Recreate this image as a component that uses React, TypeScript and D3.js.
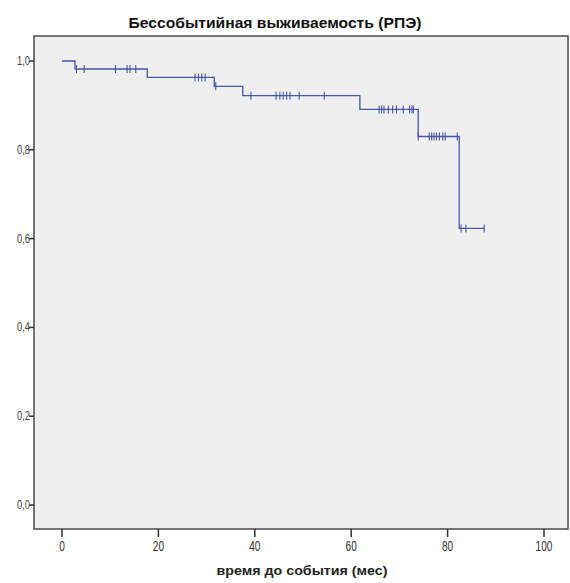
import React from "react";
import * as d3 from "d3";

const title = "Бессобытийная выживаемость (РПЭ)";
const xTitle = "время до события (мес)";
const xTicks = [0, 20, 40, 60, 80, 100];
const yTicks = [0, 0.2, 0.4, 0.6, 0.8, 1.0];
// event times and survival after event
const eventTimes = [0, 2.7, 17.7, 31.6, 37.5, 61.8, 73.9, 82.4];
const survival = [1.0, 0.982, 0.963, 0.943, 0.922, 0.891, 0.83, 0.623];
const lastTime = 87.6;
const censorTimes = [
  3.0, 4.6, 11.1, 13.5, 14.1, 15.3,
  27.6, 28.3, 29.0, 29.7, 31.9,
  39.2, 44.4, 45.2, 45.9, 46.6, 47.3, 49.2, 54.4,
  65.8, 66.3, 66.8, 67.7, 68.6, 69.4, 70.8, 72.1, 72.6, 72.9, 73.9,
  76.2, 76.7, 77.2, 77.7, 78.3, 79.0, 79.5, 82.0,
  82.8, 83.8, 87.6,
];

const W = 570, H = 583;
const L = 34, R = 568, T = 36, B = 529;

export default function App() {
  const x = d3.scaleLinear().domain([(L - 62) / 4.82, (R - 62) / 4.82]).range([L, R]);
  const y = d3.scaleLinear().domain([-24 / 444, 1 + 25 / 444]).range([B, T]);
  const pts: [number, number][] = eventTimes.map((t, i) => [t, survival[i]]);
  pts.push([lastTime, survival[survival.length - 1]]);
  const line = d3.line<[number, number]>().x(d => x(d[0])).y(d => y(d[1])).curve(d3.curveStepAfter);
  const survAt = (t: number) => {
    let s = survival[0];
    eventTimes.forEach((e, i) => { if (e <= t) s = survival[i]; });
    return s;
  };
  const fmt = (v: number) => v.toFixed(1).replace(".", ",");
  const sans = "'Liberation Sans', Arial, sans-serif";
  const color = "#4557a5";
  return (
    <svg width={W} height={H} style={{ position: "absolute", left: 0, top: 0, background: "#fff" }}>
      <rect x={0} y={0} width={W} height={H} fill="#fff" />
      <text x={275} y={28} textAnchor="middle" fontFamily={sans} fontWeight="bold" fontSize={14} textLength={293} lengthAdjust="spacingAndGlyphs" fill="#111">{title}</text>
      <rect x={L} y={T} width={R - L} height={B - T} fill="#efefef" stroke="#555" strokeWidth={1.6} />
      {yTicks.map(v => (
        <g key={"y" + v}>
          <line x1={L - 5} x2={L} y1={y(v)} y2={y(v)} stroke="#333" strokeWidth={1.5} />
          <text transform={`translate(${L - 4},${y(v) + 4}) scale(0.78,1)`} textAnchor="end" fontFamily={sans} fontSize={12} fill="#444">{fmt(v)}</text>
        </g>
      ))}
      {xTicks.map(v => (
        <g key={"x" + v}>
          <line x1={x(v)} x2={x(v)} y1={B} y2={B + 8} stroke="#333" strokeWidth={1.5} />
          <text transform={`translate(${x(v)},551) scale(0.72,1)`} textAnchor="middle" fontFamily={sans} fontSize={14} fill="#333">{v}</text>
        </g>
      ))}
      <text x={302} y={575} textAnchor="middle" fontFamily={sans} fontWeight="bold" fontSize={13} textLength={171} lengthAdjust="spacingAndGlyphs" fill="#222">{xTitle}</text>
      <path d={line(pts) || ""} fill="none" stroke={color} strokeWidth={1.3} />
      {censorTimes.map((t, i) => (
        <line key={"c" + i} x1={x(t)} x2={x(t)} y1={y(survAt(t)) - 4} y2={y(survAt(t)) + 4} stroke={color} strokeWidth={1.1} />
      ))}
    </svg>
  );
}
